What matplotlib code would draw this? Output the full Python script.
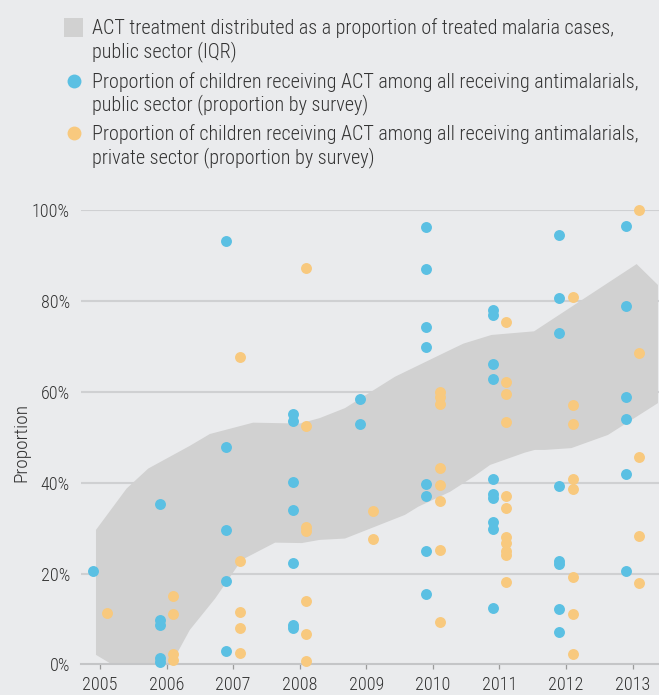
import matplotlib
matplotlib.use("Agg")
import matplotlib.pyplot as plt
import matplotlib.font_manager as fm
from matplotlib.lines import Line2D
from matplotlib.patches import Rectangle

# ---------------- data ----------------
years = [2005, 2006, 2007, 2008, 2009, 2010, 2011, 2012, 2013]
year_labels = [str(y) for y in years]
y_ticks = [0, 20, 40, 60, 80, 100]
y_tick_labels = [f"{v}%" for v in y_ticks]

# public sector survey proportions (%), one list per year
public_by_year = [
    [20.6],
    [35.4, 9.8, 8.7, 1.3, 0.6],
    [93.2, 47.8, 29.5, 18.3, 3.0],
    [55.0, 53.6, 40.2, 34.0, 22.4, 8.7, 8.0],
    [58.3, 52.9],
    [96.3, 87.0, 74.3, 69.9, 39.8, 37.1, 24.9, 15.5],
    [78.0, 76.8, 66.0, 62.9, 40.9, 37.6, 36.7, 31.4, 29.9, 12.5],
    [94.6, 80.6, 72.9, 39.3, 22.8, 22.1, 12.3, 7.2],
    [96.5, 78.9, 58.8, 54.1, 42.0, 20.6],
]
# private sector survey proportions (%), one list per year
private_by_year = [
    [11.4],
    [15.0, 11.2, 2.3, 1.0],
    [67.6, 22.8, 11.6, 8.1, 2.4],
    [87.3, 52.5, 30.3, 29.3, 13.9, 6.6, 0.7],
    [33.7, 27.7],
    [59.9, 58.9, 57.4, 43.3, 39.4, 35.9, 25.2, 9.4],
    [75.4, 62.1, 59.6, 53.3, 37.0, 34.5, 28.1, 26.8, 25.0, 24.0, 18.2],
    [80.9, 57.0, 53.0, 40.9, 38.7, 19.2, 11.0, 2.2],
    [100.0, 68.5, 45.6, 28.2, 18.0],
]

# IQR band (upper and lower edges)
band_upper_x = [2004.94, 2005.40, 2005.725, 2006.35, 2006.65, 2007.30, 2008.00,
                2008.30, 2008.68, 2009.43, 2010.26, 2010.46, 2010.88, 2011.52,
                2013.06, 2013.38]
band_upper_y = [29.6, 38.7, 43.1, 48.1, 50.7, 53.2, 53.0,
                54.2, 56.4, 63.3, 69.2, 70.6, 72.5, 73.3,
                88.1, 83.5]
band_lower_x = [2004.94, 2005.18, 2006.02, 2006.13, 2006.35, 2006.73, 2007.13,
                2007.63, 2008.03, 2008.30, 2008.68, 2009.58, 2009.78, 2010.26,
                2010.63, 2010.86, 2011.38, 2011.53, 2011.68, 2012.08, 2012.63,
                2013.38]
band_lower_y = [2.1, 0.0, 0.0, 1.7, 7.6, 14.5, 23.0,
                26.8, 26.7, 27.4, 27.7, 32.9, 34.7, 38.0,
                41.5, 43.9, 46.6, 47.2, 47.2, 47.6, 50.5,
                57.5]

legend_labels = [
    "ACT treatment distributed as a proportion of treated malaria cases,\npublic sector (IQR)",
    "Proportion of children receiving ACT among all receiving antimalarials,\npublic sector (proportion by survey)",
    "Proportion of children receiving ACT among all receiving antimalarials,\nprivate sector (proportion by survey)",
]

# ---------------- style ----------------
BG = "#eaebed"
BAND = "#d1d1d1"
BLUE = "#5bc0e3"
ORANGE = "#f8c97e"
GRID = "#cfd0d2"
TEXT = "#333333"

avail = {f.name for f in fm.fontManager.ttflist}
FONT = "Roboto"
for cand in ["Roboto Condensed", "Liberation Sans Narrow", "Open Sans Condensed",
             "Noto Sans Condensed", "Arial Narrow"]:
    if cand in avail:
        FONT = cand
        break
plt.rcParams["font.family"] = [FONT, "DejaVu Sans"]
plt.rcParams["font.weight"] = "light"
plt.rcParams["axes.labelweight"] = "light"

W, H = 659, 695
fig = plt.figure(figsize=(W / 100, H / 100), dpi=100, facecolor=BG)
renderer = fig.canvas.get_renderer()


def fit_size(txt, target_px):
    w = txt.get_window_extent(renderer).width
    return txt.get_fontsize() * target_px / w


ax_left, ax_right = 81, 659
ax_top, ax_bottom = 210, 664.4
ax = fig.add_axes([ax_left / W, 1 - ax_bottom / H, (ax_right - ax_left) / W,
                   (ax_bottom - ax_top) / H])
ax.set_facecolor(BG)
ax.set_xlim(2004.715, 2013.396)
ax.set_ylim(0, 100)

# band
poly_x = list(band_upper_x) + list(band_lower_x[::-1])
poly_y = list(band_upper_y) + list(band_lower_y[::-1])
ax.fill(poly_x, poly_y, color=BAND, lw=0, zorder=2)

# grid
for v in y_ticks[1:]:
    ax.axhline(v, color=GRID, lw=1.5, zorder=1)

# dots
off = 0.1
px, py, qx, qy = [], [], [], []
for yr, vals in zip(years, public_by_year):
    px += [yr - off] * len(vals)
    py += vals
for yr, vals in zip(years, private_by_year):
    qx += [yr + off] * len(vals)
    qy += vals
ax.scatter(px, py, s=62, color=BLUE, lw=0, zorder=4, clip_on=False)
ax.scatter(qx, qy, s=62, color=ORANGE, lw=0, zorder=4, clip_on=False)

# axes decoration
for s in ["top", "right", "left"]:
    ax.spines[s].set_visible(False)
ax.spines["bottom"].set_color("#c4c5c7")
ax.spines["bottom"].set_linewidth(1.5)
ax.spines["bottom"].set_zorder(3)

ax.set_xticks(years)
ax.set_xticklabels(year_labels)
ax.set_yticks(y_ticks)
ax.set_yticklabels(y_tick_labels)

# fit tick label size so "100%" is ~38 px wide
probe = fig.text(0, 0, "100%", fontsize=12.5)
tick_fs = min(13.0, fit_size(probe, 38))
probe.remove()

ax.tick_params(axis="x", length=3.6, width=0.9, color="#9a9a9a", pad=5,
               labelsize=tick_fs, labelcolor=TEXT)
ax.tick_params(axis="y", length=0, pad=8, labelsize=tick_fs, labelcolor=TEXT)

probe = fig.text(0, 0, "Proportion", fontsize=14)
ylab_fs = min(15.0, fit_size(probe, 79))
probe.remove()
ax.set_ylabel("Proportion", fontsize=ylab_fs, color=TEXT, fontweight="light")
ax.yaxis.set_label_coords(-0.088, 0.489)

# ---------------- legend (manual) ----------------
def fx(x):
    return x / W


def fy(y):
    return 1 - y / H


fig.add_artist(Rectangle((fx(64.3), fy(36.7)), 18.4 / W, 18.4 / H,
                         transform=fig.transFigure, color=BAND, lw=0))
fig.add_artist(Line2D([fx(73.8)], [fy(80.5)], transform=fig.transFigure,
                      marker="o", ms=10, color=BLUE, mew=0, ls="none"))
fig.add_artist(Line2D([fx(73.8)], [fy(132.8)], transform=fig.transFigure,
                      marker="o", ms=10, color=ORANGE, mew=0, ls="none"))

probe = fig.text(0, 0, legend_labels[1].split("\n")[0], fontsize=14)
leg_fs = min(15.0, fit_size(probe, 546))
probe.remove()

baselines = [(34.5, 57.5), (87.5, 110.5), (140.5, 163.5)]
for label, (b1, b2) in zip(legend_labels, baselines):
    l1, l2 = label.split("\n")
    fig.text(fx(91.7), fy(b1), l1, fontsize=leg_fs, color=TEXT, va="baseline", ha="left")
    fig.text(fx(91.7), fy(b2), l2, fontsize=leg_fs, color=TEXT, va="baseline", ha="left")

fig.savefig("out.png", dpi=100, facecolor=BG)
